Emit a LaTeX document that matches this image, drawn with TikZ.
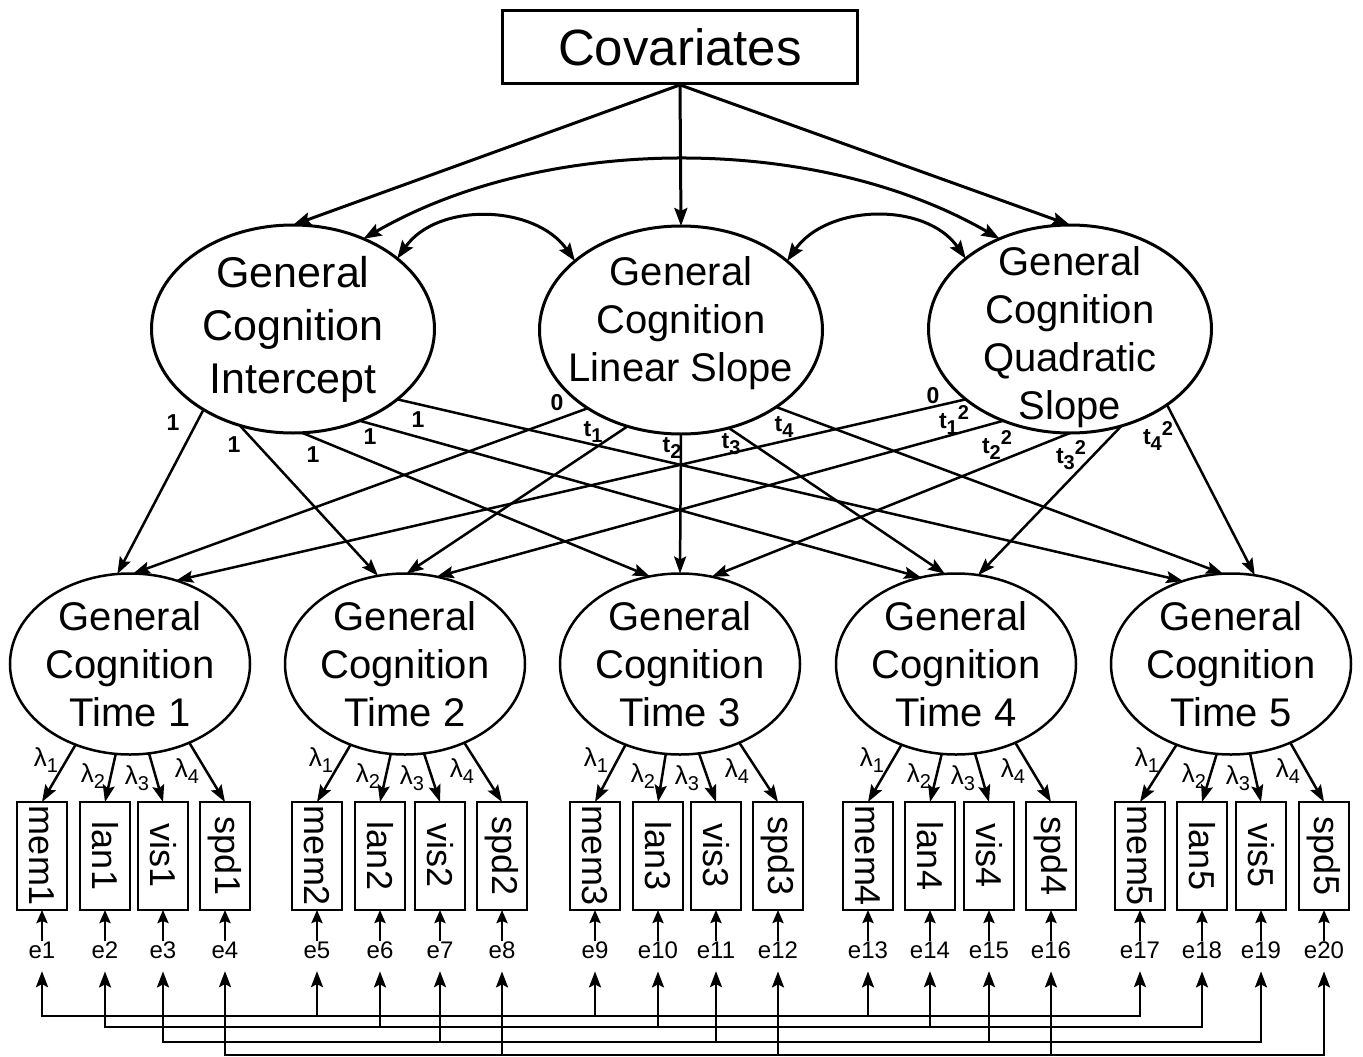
\documentclass[tikz,border=0pt]{standalone}
\usepackage{fontspec}
\setmainfont{Liberation Sans}
\usetikzlibrary{shapes.geometric,arrows.meta,positioning,calc}

% sub- and superscripts for the small labels
\newcommand{\lo}[1]{\raisebox{-6pt}{\fontsize{20}{20}\selectfont #1}}
\newcommand{\hi}[1]{\raisebox{9pt}{\fontsize{20}{20}\selectfont #1}}

\tikzset{
  factor/.style={ellipse, draw, line width=3pt, inner sep=-30pt, outer sep=0pt,
    minimum width=283pt, minimum height=208pt, align=center,
    font=\fontsize{40}{48}\selectfont},
  occasion/.style={ellipse, draw, line width=2.5pt, inner sep=-30pt, outer sep=0pt,
    minimum width=240pt, minimum height=181pt, align=center,
    font=\fontsize{40}{48}\selectfont},
  indicator/.style={draw, line width=2.8pt, inner sep=0pt, outer sep=0pt,
    minimum width=50pt, minimum height=108pt, font=\fontsize{36}{36}\selectfont},
  resid/.style={inner sep=1pt, font=\fontsize{24}{24}\selectfont},
  wlabel/.style={inner sep=0pt, font=\bfseries\fontsize{23}{23}\selectfont},
  lam/.style={inner sep=0pt, font=\fontsize{26}{26}\selectfont},
  arr/.style={line width=2.5pt, -{Stealth[length=17pt, width=12pt, inset=3pt]}},
  bigarr/.style={line width=3pt, -{Stealth[length=18pt, width=13pt, inset=3pt]}},
  covarr/.style={line width=3pt, {Stealth[length=18pt, width=13pt, inset=3pt]}-{Stealth[length=18pt, width=13pt, inset=3pt]}},
  erarr/.style={line width=2.5pt, -{Stealth[length=13pt, width=11pt, inset=2pt]}},
  barr/.style={line width=2.5pt, shorten >=11pt, -{Stealth[length=16pt, width=12pt, inset=3pt]}}
}

\begin{document}
\begin{tikzpicture}[x=1pt, y=-1pt]
\useasboundingbox (0,0) rectangle (1363,1057);

    % Covariates and growth factors
    \node[draw, line width=2.8pt, minimum width=355pt, minimum height=73pt, inner sep=0pt,
      font=\fontsize{51}{60}\selectfont] (cov) at (680,47) {Covariates};
    \node[factor, font=\fontsize{43}{53}\selectfont] (I) at (293,329) {General\\Cognition\\Intercept};
    \node[factor] (L) at (681,330) {General\\Cognition\\Linear Slope\rule[-22pt]{0pt}{0pt}};
    \node[factor] (Q) at (1070,329) {\rule{0pt}{45pt}General\\Cognition\\Quadratic\\Slope};

    % Regressions on covariates
    \draw[bigarr] (cov.south) -- (I.north);
    \draw[bigarr] (cov.south) -- (L.north);
    \draw[bigarr] (cov.south) -- (Q.north);

    % Factor covariances
    \draw[covarr] (I.34) to[out=55,in=125] (L.147);
    \draw[covarr] (L.33) to[out=55,in=125] (Q.146);
    \draw[covarr] (I.52) to[out=30,in=150,looseness=0.85] (Q.128);

    % Occasion factors
    \foreach \t/\x in {1/130,2/405,3/680,4/956,5/1231}
      \node[occasion] (T\t) at (\x,664) {General\\Cognition\\Time \t};

    % Growth loadings
    \foreach \t/\a/\b in {1/-138/98,2/-119/107,3/-85/109,4/-54/112,5/-34/120}
      \draw[arr] (I.\a) -- (T\t.\b);
    \foreach \t/\a/\b in {1/-140/88,2/-119/89,3/-90/90,4/-64/97,5/-39/95}
      \draw[arr] (L.\a) -- (T\t.\b);
    \foreach \t/\a/\b in {1/-146/61,2/-126/70,3/-90/70,4/-62/76,5/-38/75}
      \draw[arr] (Q.\a) -- (T\t.\b);

    % Loading values
    \foreach \n/\x/\y in {1/173/423,2/234/445,3/313/455,4/370/437,5/418/420}
      \node[wlabel] (iw\n) at (\x,\y) {1};
    \foreach \n/\x/\y/\s in {0/557/403/0,1/593/432/t\lo{1},2/672/448/t\lo{2},
        3/731/444/t\lo{3},4/784/427/t\lo{4}}
      \node[wlabel] (lw\n) at (\x,\y) {\s};
    \foreach \n/\x/\y/\s in {0/933/396/0,1/954/420/t\lo{1}\hi{2},
        2/997/445/t\lo{2}\hi{2},3/1071/455/t\lo{3}\hi{2},4/1158/436/t\lo{4}\hi{2}}
      \node[wlabel] (qw\n) at (\x,\y) {\s};

    % Indicators, measurement loadings and residuals
    \foreach \t/\a/\b/\c/\d in {1/42/105/163/225,2/317/380/440/502,3/595/658/716/778,
        4/868/930/989/1051,5/1140/1202/1261/1324}{
      \node[indicator] (mem\t) at (\a,856) {\rotatebox{-90}{mem\t}};
      \node[indicator] (lan\t) at (\b,856) {\rotatebox{-90}{lan\t}};
      \node[indicator] (vis\t) at (\c,856) {\rotatebox{-90}{vis\t}};
      \node[indicator] (spd\t) at (\d,856) {\rotatebox{-90}{spd\t}};
      \draw[arr] (T\t.-124) -- (mem\t.north);
      \draw[arr] (T\t.-99) -- (lan\t.north);
      \draw[arr] (T\t.-78) -- (vis\t.north);
      \draw[arr] (T\t.-53) -- (spd\t.north);
      \node[lam] (la\t) at ($(T\t)+(-84,96)$) {λ\lo{1}};
      \node[lam] (lb\t) at ($(T\t)+(-37,112)$) {λ\lo{2}};
      \node[lam] (lc\t) at ($(T\t)+(7,114)$) {λ\lo{3}};
      \node[lam] (ld\t) at ($(T\t)+(57,107)$) {λ\lo{4}};
      \pgfmathtruncatemacro{\ma}{4*\t-3}
      \pgfmathtruncatemacro{\mb}{4*\t-2}
      \pgfmathtruncatemacro{\mc}{4*\t-1}
      \pgfmathtruncatemacro{\md}{4*\t}
      \node[resid, below=31pt of mem\t] (e\ma) {e\ma};
      \node[resid, below=31pt of lan\t] (e\mb) {e\mb};
      \node[resid, below=31pt of vis\t] (e\mc) {e\mc};
      \node[resid, below=31pt of spd\t] (e\md) {e\md};
      \draw[erarr] (e\ma) -- (mem\t);
      \draw[erarr] (e\mb) -- (lan\t);
      \draw[erarr] (e\mc) -- (vis\t);
      \draw[erarr] (e\md) -- (spd\t);
    }

    % Correlated residuals across occasions
    \coordinate (memline) at (0,1016);
    \coordinate (lanline) at (0,1027);
    \coordinate (visline) at (0,1042);
    \coordinate (spdline) at (0,1055);
    \foreach \k/\ln in {1/memline,2/lanline,3/visline,4/spdline}{
      \pgfmathtruncatemacro{\last}{\k+16}
      \draw[line width=2.5pt, line cap=rect] (e\k |- \ln) -- (e\last |- \ln);
      \foreach \j in {0,4,...,16}{
        \pgfmathtruncatemacro{\n}{\k+\j}
        \draw[barr] (e\n |- \ln) -- (e\n.south);
      }
    }

\end{tikzpicture}
\end{document}
